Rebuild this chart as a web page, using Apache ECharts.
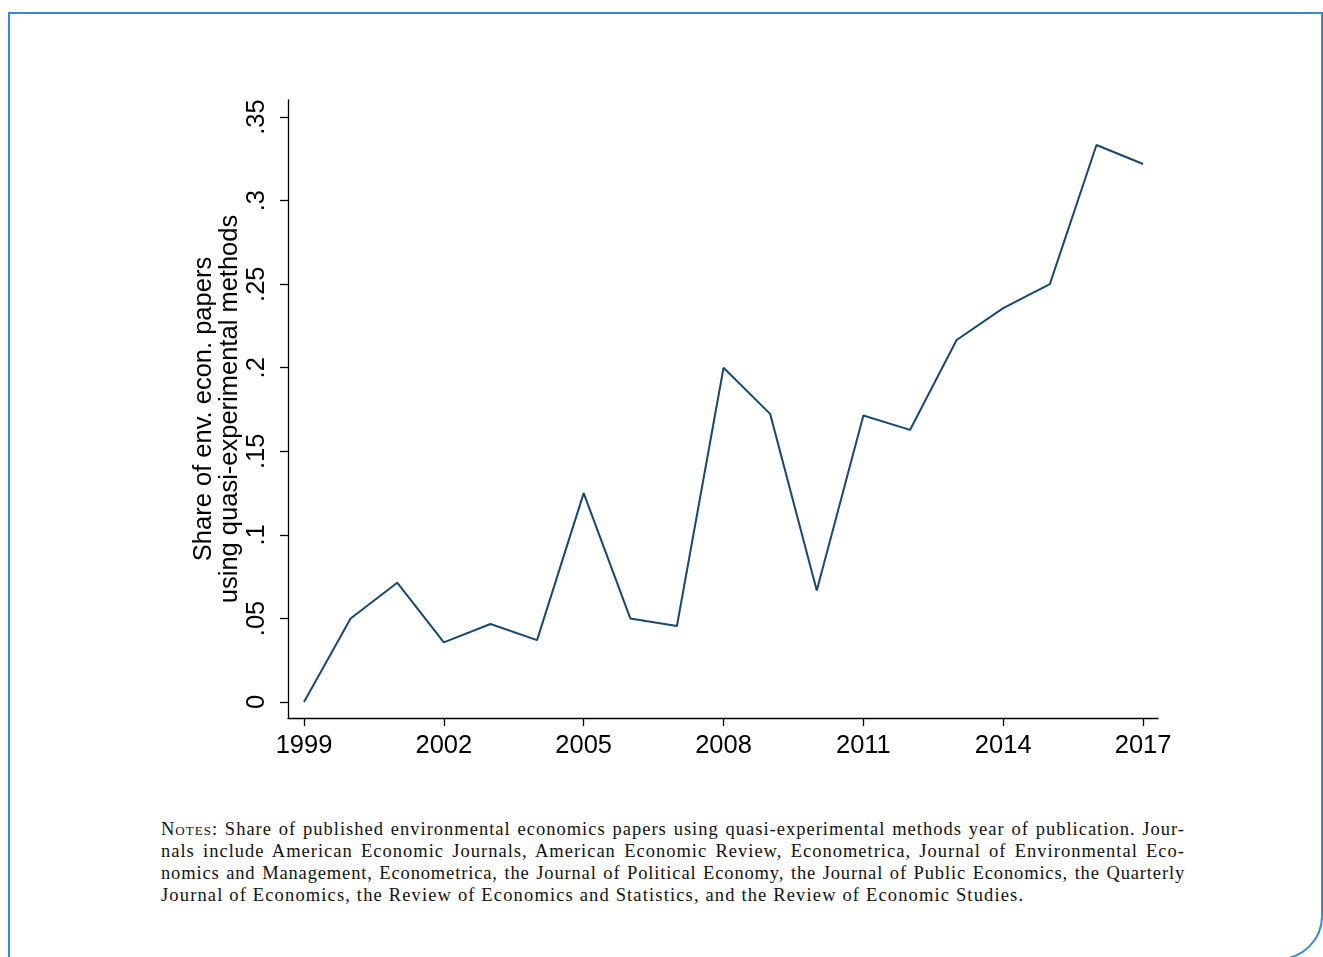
<!DOCTYPE html>
<html>
<head>
<meta charset="utf-8">
<script src="https://cdn.jsdelivr.net/npm/echarts@6/dist/echarts.min.js"></script>
<style>
  html, body { margin: 0; padding: 0; background: #fff; width: 1323px; height: 957px; overflow: hidden; }
  #frame { position: absolute; left: 8px; top: 12px; width: 1315px; height: 948px; border: 2px solid #3a87d2; border-radius: 0 0 44px 0; box-sizing: border-box; }
  #chart { position: absolute; left: 0; top: 0; width: 1323px; height: 800px; }
  #notes { position: absolute; left: 161px; top: 818px; width: 1024px; font-family: "Liberation Serif", "DejaVu Serif", serif; font-size: 18.5px; letter-spacing: 1.0px; line-height: 22px; color: #111; }
  #notes div { text-align: justify; text-align-last: justify; white-space: nowrap; }
  #notes div.l3 { letter-spacing: 0.85px; }
  #notes div.last { text-align-last: left; letter-spacing: 1.15px; }
  .sc { font-variant: small-caps; }
</style>
</head>
<body>
<div id="frame"></div>
<div id="chart"></div>
<div id="notes">
  <div><span class="sc">Notes</span>: Share of published environmental economics papers using quasi-experimental methods year of publication. Jour-</div>
  <div>nals include American Economic Journals, American Economic Review, Econometrica, Journal of Environmental Eco-</div>
  <div class="l3">nomics and Management, Econometrica, the Journal of Political Economy, the Journal of Public Economics, the Quarterly</div>
  <div class="last">Journal of Economics, the Review of Economics and Statistics, and the Review of Economic Studies.</div>
</div>
<script>
const years = [1999, 2000, 2001, 2002, 2003, 2004, 2005, 2006, 2007, 2008, 2009, 2010, 2011, 2012, 2013, 2014, 2015, 2016, 2017];
const shares = [0, 0.05, 0.0714, 0.0357, 0.0467, 0.037, 0.125, 0.05, 0.0455, 0.2, 0.1724, 0.0667, 0.1714, 0.1628, 0.2166, 0.2357, 0.25, 0.3333, 0.3219];
const xTicks = [1999, 2002, 2005, 2008, 2011, 2014, 2017];
const yTicks = [0, 0.05, 0.1, 0.15, 0.2, 0.25, 0.3, 0.35];
const yTitle = 'Share of env. econ. papers\nusing quasi-experimental methods';

const chart = echarts.init(document.getElementById('chart'));
const axisFont = { fontFamily: 'Liberation Sans, Arial, sans-serif', fontSize: 25.5, color: '#000' };
chart.setOption({
  animation: false,
  grid: { left: 288, top: 100, width: 870, height: 618, containLabel: false },
  xAxis: {
    type: 'value',
    min: 1998.657, max: 2017.32,
    axisLine: { show: true, onZero: false, lineStyle: { color: '#000', width: 1.3 } },
    axisTick: { show: true, customValues: xTicks, length: 8, lineStyle: { color: '#000', width: 1.3 } },
    axisLabel: Object.assign({ customValues: xTicks, margin: 15, formatter: v => String(Math.round(v)) }, axisFont),
    splitLine: { show: false }
  },
  yAxis: {
    type: 'value',
    min: -0.00957, max: 0.3602,
    name: yTitle,
    nameLocation: 'middle',
    nameRotate: 90,
    nameGap: 45,
    nameMoveOverlap: false,
    nameTextStyle: { fontFamily: 'Liberation Sans, Arial, sans-serif', fontSize: 25.5, color: '#000', lineHeight: 26 },
    axisLine: { show: true, onZero: false, lineStyle: { color: '#000', width: 1.3 } },
    axisTick: { show: true, customValues: yTicks, length: 8, lineStyle: { color: '#000', width: 1.3 } },
    axisLabel: Object.assign({ customValues: yTicks, margin: 18, rotate: 90,
      formatter: v => { if (Math.abs(v) < 1e-9) return '0'; return String(+v.toFixed(2)).replace(/^0/, ''); } }, axisFont),
    splitLine: { show: false }
  },
  series: [{
    type: 'line',
    data: years.map((y, i) => [y, shares[i]]),
    symbol: 'none',
    lineStyle: { color: '#1a476f', width: 2 },
    itemStyle: { color: '#1a476f' }
  }]
});
</script>
</body>
</html>
